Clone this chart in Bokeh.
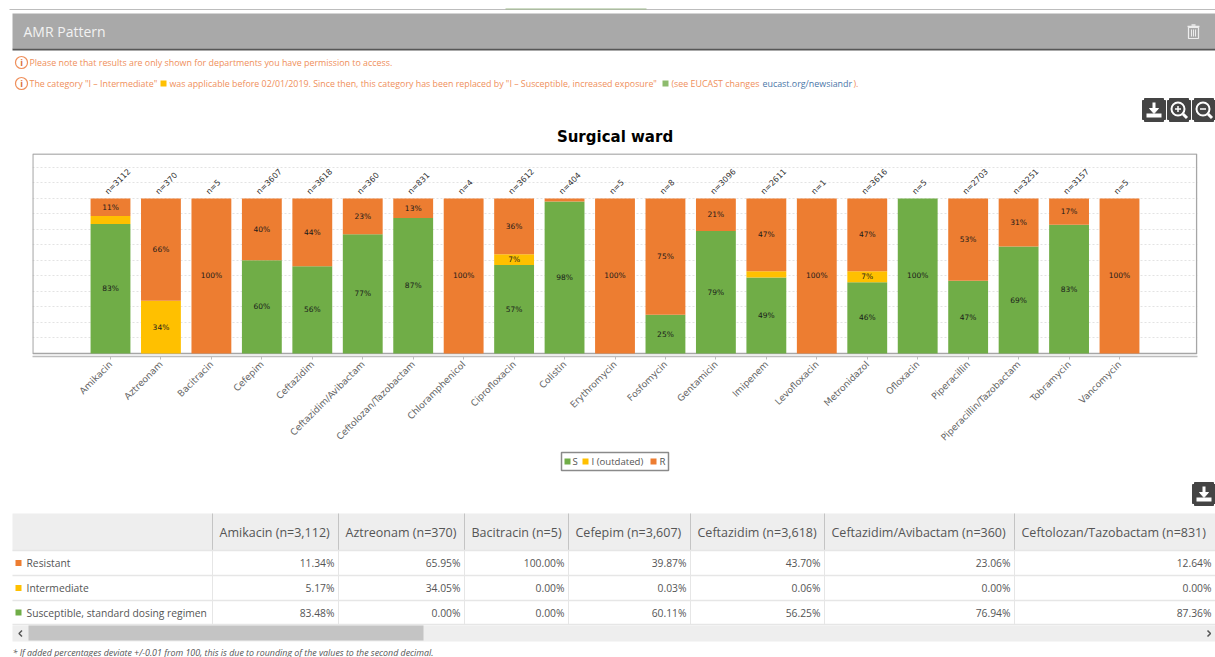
from math import pi
from bokeh.plotting import figure
from bokeh.layouts import column
from bokeh.models import Range1d, FactorRange, SingleIntervalTicker, ColumnDataSource
from bokeh.core.properties import value
from bokeh.embed import file_html
from bokeh.resources import INLINE

# ---------- data ----------
drugs = ["Amikacin", "Aztreonam", "Bacitracin", "Cefepim", "Ceftazidim", "Ceftazidim/Avibactam",
         "Ceftolozan/Tazobactam", "Chloramphenicol", "Ciprofloxacin", "Colistin", "Erythromycin",
         "Fosfomycin", "Gentamicin", "Imipenem", "Levofloxacin", "Metronidazol", "Ofloxacin",
         "Piperacillin", "Piperacillin/Tazobactam", "Tobramycin", "Vancomycin"]
counts = [3112, 370, 5, 3607, 3618, 360, 831, 4, 3612, 404, 5, 8, 3096, 2611, 1, 3616, 5, 2703, 3251, 3157, 5]
susceptible = [83.48, 0, 0, 60.11, 56.25, 76.94, 87.36, 0, 57, 98, 0, 25, 79, 49, 0, 46, 100, 47, 69, 83, 0]
intermediate = [5.17, 34.05, 0, 0.03, 0.06, 0, 0, 0, 7, 0, 0, 0, 0, 4, 0, 7, 0, 0, 0, 0, 0]
resistant = [11.34, 65.95, 100, 39.87, 43.70, 23.06, 12.64, 100, 36, 2, 100, 75, 21, 47, 100, 47, 0, 53, 31, 17, 100]
table_rows = ["Resistant", "Intermediate", "Susceptible, standard dosing regimen"]
table_drugs = 7

GREEN, YELLOW, ORANGE = "#70AD47", "#FFC000", "#ED7D31"
NOTE = "#EF8F5B"
INK = "#555555"
PAGE_FONT = value("Open Sans")
CHART_FONT = value("DejaVu Sans")
LEFT, RIGHT = 0, 1215


def sheet(top, bottom):
    f = figure(width=1215, height=bottom - top, x_range=Range1d(LEFT, RIGHT), y_range=Range1d(bottom, top),
               x_axis_type=None, y_axis_type=None, toolbar_location=None, output_backend="svg",
               min_border=0, outline_line_color=None, background_fill_color="white", frame_align=False)
    f.grid.visible = False
    return f


def words(f, x, y, s, size, color=INK, align="left", style="normal", font=PAGE_FONT):
    f.text(x=[x], y=[y], text=[s], text_font=font, text_font_size=value(f"{size}px"), text_color=color,
           text_align=align, text_baseline="middle", text_font_style=style)


def box(f, l, r, t, b, fill, line=None, width=1):
    f.quad(left=[l], right=[r], top=[t], bottom=[b], fill_color=fill, line_color=line, line_width=width)


def btn_base(f, l, t, size=23):
    f.quad(left=[l + 2], right=[l + size - 2], top=[t], bottom=[t + size], fill_color="#444444", line_color="#444444")
    f.quad(left=[l], right=[l + size], top=[t + 2], bottom=[t + size - 2], fill_color="#444444", line_color="#444444")


def download_icon(f, l, t):
    btn_base(f, l, t)
    cx = l + 11.5
    f.segment(x0=[cx], y0=[t + 4], x1=[cx], y1=[t + 11], line_color="white", line_width=3)
    f.patch(x=[cx - 4.5, cx + 4.5, cx], y=[t + 10, t + 10, t + 15], fill_color="white", line_color="white")
    f.quad(left=[l + 4], right=[l + 19], top=[t + 15], bottom=[t + 19], fill_color="white", line_color=None)


def zoom_icon(f, l, t, plus):
    btn_base(f, l, t)
    cx, cy = l + 10.5, t + 10.5
    f.scatter(x=[cx], y=[cy], size=13, marker="circle", fill_color=None, line_color="white", line_width=2)
    f.segment(x0=[cx + 5], y0=[cy + 5], x1=[cx + 9], y1=[cy + 9], line_color="white", line_width=3)
    f.segment(x0=[cx - 3], y0=[cy], x1=[cx + 3], y1=[cy], line_color="white", line_width=1.5)
    if plus:
        f.segment(x0=[cx], y0=[cy - 3], x1=[cx], y1=[cy + 3], line_color="white", line_width=1.5)


# ---------- top of page ----------
top = sheet(0, 145)
top.segment(x0=[9], y0=[9], x1=[RIGHT], y1=[9], line_color="#BDBDBD", line_width=1)
top.segment(x0=[505], y0=[8.5], x1=[646], y1=[8.5], line_color="#9DB98A", line_width=1)
box(top, 12, RIGHT, 13, 48, "#A9A9A9")
box(top, 12, RIGHT, 48, 50, "#565656")
words(top, 23, 31, "AMR Pattern", 14, "#F2F2F2")
# bin icon
box(top, 1188, 1198, 27, 38, None, "#EDEDED", 1.2)
top.segment(x0=[1187], y0=[26], x1=[1199], y1=[26], line_color="#EDEDED", line_width=1.5)
top.segment(x0=[1191, 1193, 1195], y0=[29, 29, 29], x1=[1191, 1193, 1195], y1=[36, 36, 36], line_color="#EDEDED", line_width=1)
top.segment(x0=[1191], y0=[24.5], x1=[1195], y1=[24.5], line_color="#EDEDED", line_width=1.5)

for y in (62, 83):
    top.scatter(x=[21], y=[y], size=12, marker="circle", fill_color="white", line_color=NOTE, line_width=1.2)
    words(top, 21, y, "i", 9, "#D9703A", "center", "bold")
words(top, 29, 62, "Please note that results are only shown for departments you have permission to access.", 8.9, NOTE)
words(top, 29, 83, "The category \"I \u2013 Intermediate\"", 8.9, NOTE)
box(top, 160, 166, 80, 86, YELLOW)
words(top, 169, 83, "was applicable before 02/01/2019. Since then, this category has been replaced by \"I \u2013 Susceptible, increased exposure\"", 8.85, NOTE)
box(top, 662, 668, 80, 86, "#8DBB6D")
words(top, 671, 83, "(see EUCAST changes", 8.9, NOTE)
words(top, 762, 83, "eucast.org/newsiandr", 8.9, "#4A76A8")
words(top, 853, 83, ").", 8.9, NOTE)
download_icon(top, 1142, 98)
zoom_icon(top, 1167, 98, True)
zoom_icon(top, 1192, 98, False)
words(top, 614.5, 136, "Surgical ward", 15, "black", "center", "bold", CHART_FONT)

# ---------- chart ----------
chart = figure(width=1215, height=305, frame_width=1165, frame_height=203,
               x_range=FactorRange(factors=drugs, range_padding=1.046, range_padding_units="absolute"),
               y_range=Range1d(-1.94, 129), toolbar_location=None, output_backend="svg",
               min_border_left=32, min_border_right=18, min_border_top=8, min_border_bottom=94,
               outline_line_color=None, background_fill_color="white", frame_align=False)
chart.yaxis.visible = False
chart.xgrid.visible = False
chart.ygrid.ticker = SingleIntervalTicker(interval=10, num_minor_ticks=0)
chart.ygrid.grid_line_color = "#E3E3E3"
chart.ygrid.grid_line_dash = "2 2"
chart.xaxis.axis_line_color = "#BDBDBD"
chart.xaxis.axis_line_width = 1.5
chart.xaxis.major_tick_line_color = "#BDBDBD"
chart.xaxis.major_tick_in = 0
chart.xaxis.major_tick_out = 3
chart.xaxis.minor_tick_line_color = None
chart.xaxis.major_label_orientation = pi / 4
chart.xaxis.major_label_text_font = "DejaVu Sans"
chart.xaxis.major_label_text_font_size = "9.2px"
chart.xaxis.major_label_text_color = "#666666"
chart.xaxis.major_label_standoff = 3

# frame of the plotting area, sitting just above the axis line
chart.quad(left=[-1.04], right=[22.03], bottom=[0], top=[128.6], fill_color=None, line_color="#A6A6A6", line_width=1.5)

src = ColumnDataSource(dict(x=drugs, S=susceptible, I=intermediate, R=resistant))
chart.vbar_stack(["S", "I", "R"], x="x", width=0.79, color=[GREEN, YELLOW, ORANGE], source=src, line_color=None)


def labels(vals, bases):
    xs, ys, txt = [], [], []
    for name, v, b in zip(drugs, vals, bases):
        if v >= 6.5:
            xs.append(name); ys.append(b + v / 2); txt.append(f"{round(v)}%")
    chart.text(x=xs, y=ys, text=txt, text_font=CHART_FONT, text_font_size=value("7.5px"), text_color="#1A1A1A",
               text_align="center", text_baseline="middle")


zero = [0] * len(drugs)
labels(susceptible, zero)
labels(intermediate, susceptible)
labels(resistant, [s + i for s, i in zip(susceptible, intermediate)])
chart.text(x=drugs, y=[103.5] * len(drugs), text=[f"n={c}" for c in counts], angle=pi / 4, text_font=CHART_FONT,
           text_font_size=value("8px"), text_color="#333333", text_align="left", text_baseline="middle",
           x_offset=-4)

# ---------- legend and table ----------
tab = sheet(450, 657)
box(tab, 561, 668, 452, 470, "white", "#8A8A8A", 1.5)
box(tab, 564, 570, 458, 464, GREEN)
words(tab, 572, 461, "S", 9.6, INK)
box(tab, 582, 588, 458, 464, YELLOW)
words(tab, 591, 461, "I (outdated)", 9.6, INK)
box(tab, 650, 656, 458, 464, ORANGE)
words(tab, 659, 461, "R", 9.6, INK)

col_edges = [12, 212, 338, 464, 568, 690, 824, 1014, RIGHT]
rows_y = [550, 575, 600, 624]
head_top = 513
download_icon(tab, 1192, 482)
box(tab, col_edges[0], RIGHT, head_top, rows_y[0], "#EEEEEE")
tab.segment(x0=col_edges[1:-1], y0=[head_top] * 7, x1=col_edges[1:-1], y1=[rows_y[0]] * 7, line_color="#C4C4C4", line_width=1)
tab.segment(x0=col_edges[1:-1], y0=[rows_y[0]] * 7, x1=col_edges[1:-1], y1=[rows_y[-1]] * 7, line_color="#E6E6E6", line_width=1)
tab.segment(x0=[12] * 4, y0=rows_y, x1=[RIGHT] * 4, y1=rows_y, line_color="#E6E6E6", line_width=1.5)
for i in range(table_drugs):
    words(tab, col_edges[i + 1] + 7, 532, f"{drugs[i]} (n={counts[i]:,})", 12.5, INK)
series = [resistant, intermediate, susceptible]
swatches = [ORANGE, YELLOW, GREEN]
for r, label in enumerate(table_rows):
    mid = (rows_y[r] + rows_y[r + 1]) / 2
    box(tab, 15, 21, mid - 3, mid + 3, swatches[r])
    words(tab, 26, mid, label, 10.3, INK)
    for i in range(table_drugs):
        words(tab, col_edges[i + 2] - 4, mid, f"{series[r][i]:.2f}%", 10.3, INK, "right")
box(tab, 12, RIGHT, 625, 641, "#EEEEEE")
box(tab, 28, 423, 625, 640, "#C4C4C4")
tab.line(x=[21.5, 18.5, 21.5], y=[630, 633, 636], line_color="#555555", line_width=1.5)
tab.line(x=[1207, 1210, 1207], y=[630, 633, 636], line_color="#555555", line_width=1.5)
words(tab, 12, 652, "* If added percentages deviate +/-0.01 from 100, this is due to rounding of the values to the second decimal.", 8.85, INK, style="italic")

page = column(top, chart, tab, spacing=0)
open("out.html", "w").write(file_html(page, INLINE))
